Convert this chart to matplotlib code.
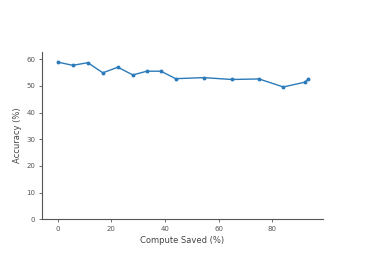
import matplotlib as mpl
mpl.use('Agg')
import matplotlib.pyplot as plt

compute_saved = [0, 5.6, 11.2, 16.8, 22.4, 28.0, 33.2, 38.5, 44.0, 54.5, 64.9, 75.1, 84.2, 92.3, 93.4]
accuracy = [58.9, 57.7, 58.7, 54.9, 57.0, 54.1, 55.5, 55.5, 52.7, 53.1, 52.4, 52.6, 49.6, 51.4, 52.5]

fig = plt.figure(figsize=(3.66, 2.61), dpi=100)
ax = fig.add_axes([41.5/366, 1 - 219.3/261, (323 - 41.5)/366, (219.3 - 52)/261])

ax.plot(compute_saved, accuracy, '-', color='#2b7bba', lw=1.0,
        marker='o', markersize=1.8)

ax.set_xlim(-6.1, 99)
ax.set_ylim(0, 62.7)
ax.set_xticks([0, 20, 40, 60, 80])
ax.set_yticks([0, 10, 20, 30, 40, 50, 60])

for side in ['top', 'right']:
    ax.spines[side].set_visible(False)
for side in ['left', 'bottom']:
    ax.spines[side].set_color('#555555')
    ax.spines[side].set_linewidth(0.8)

ax.tick_params(axis='both', labelsize=5, colors='#555555', length=2.5, width=0.6, pad=2)
ax.set_xlabel('Compute Saved (%)', fontsize=6, color='#444444', labelpad=3.5)
ax.set_ylabel('Accuracy (%)', fontsize=6, color='#444444', labelpad=3)

fig.savefig('out.png', dpi=100)
